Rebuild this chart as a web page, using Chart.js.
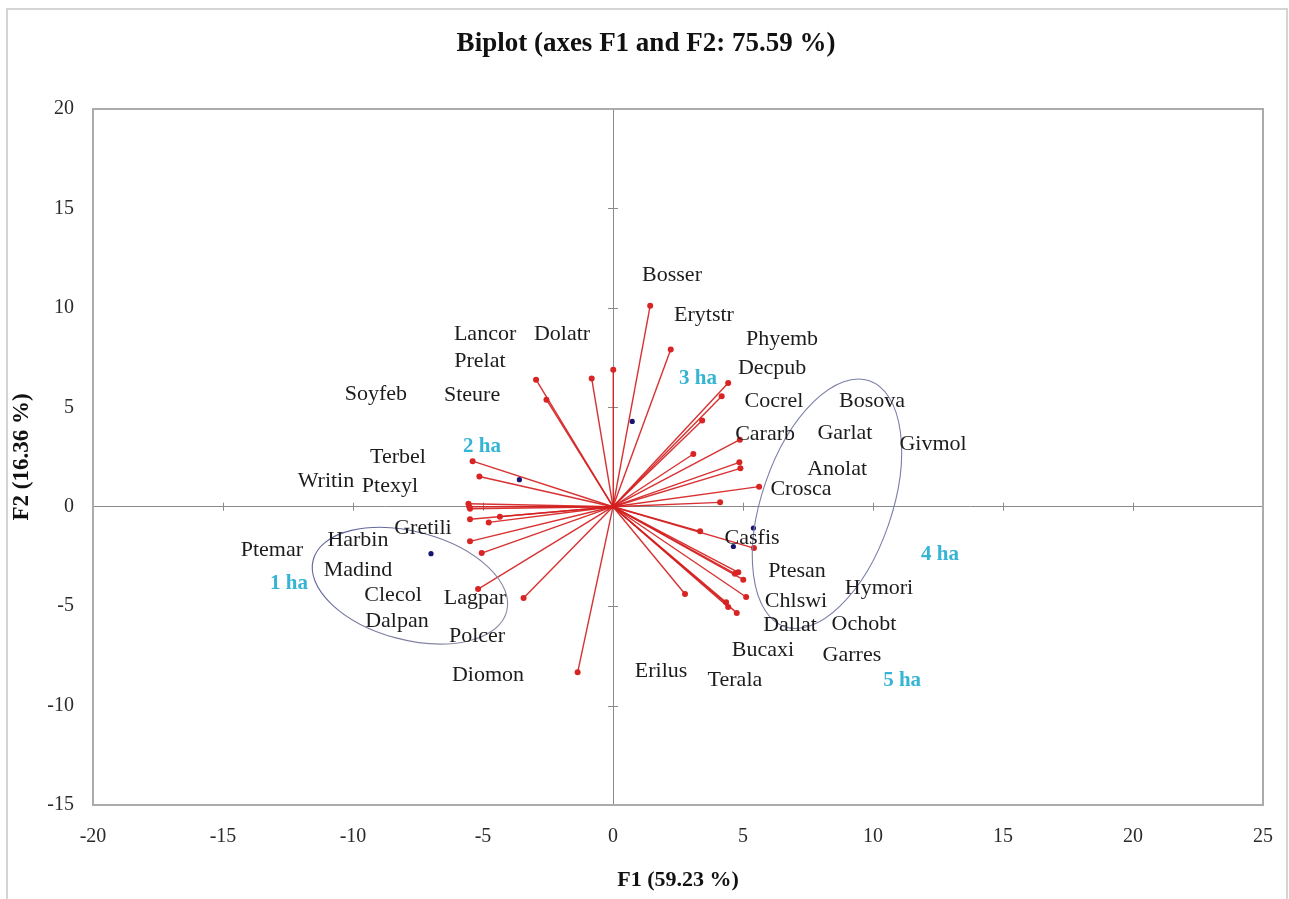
<!DOCTYPE html>
<html><head><meta charset="utf-8">
<script src="https://cdn.jsdelivr.net/npm/chart.js@4.4.0/dist/chart.umd.min.js"></script>
<style>html,body{margin:0;padding:0;background:#fff}#wrap{width:1289px;height:899px}</style>
</head><body><div id="wrap"><canvas id="c" width="1289" height="899"></canvas></div>
<script>
// ---- data ----
const chartTitle = 'Biplot (axes F1 and F2: 75.59 %)';
const variables = ['Bosser','Erytstr','Phyemb','Decpub','Cocrel','Cararb','Bosova','Garlat','Givmol','Anolat','Crosca','Casfis','Ptesan','Hymori','Chlswi','Ochobt','Dallat','Garres','Bucaxi','Terala','Erilus','Diomon','Polcer','Lagpar','Dalpan','Clecol','Madind','Harbin','Ptemar','Gretili','Writin','Ptexyl','Terbel','Soyfeb','Steure','Prelat','Lancor','Dolatr'];
const varF1 = [1.43,2.22,4.43,4.18,3.43,4.88,4.86,4.90,3.09,4.12,5.62,5.42,4.69,4.82,5.01,5.12,4.76,4.43,4.35,3.35,2.77,-1.36,-3.44,-5.19,-5.05,-5.50,-4.35,-4.78,-5.50,-5.50,-5.53,-5.14,-5.40,-5.56,-2.56,-0.82,-2.96,0.01];
const varF2 = [10.11,7.91,6.22,5.55,4.34,3.37,2.23,1.93,2.65,0.22,1.01,-2.08,-3.37,-3.30,-3.67,-4.54,-5.34,-5.04,-4.81,-1.24,-4.39,-8.33,-4.59,-4.14,-2.33,-1.74,-0.50,-0.79,-0.63,-0.10,0.00,1.52,2.29,0.15,5.38,6.45,6.39,6.89];
const varLabelF1 = [2.27,3.50,6.50,6.12,6.19,5.85,9.96,8.92,12.31,8.62,7.23,5.35,7.08,10.23,7.04,9.65,6.81,9.19,5.77,4.69,1.85,-4.81,-5.23,-5.31,-8.31,-8.46,-9.81,-9.81,-13.12,-7.31,-11.04,-8.58,-8.27,-9.12,-5.42,-5.12,-4.92,-1.96];
const varLabelF2 = [11.66,9.65,8.40,6.94,5.28,3.67,5.28,3.72,3.12,1.91,0.90,-1.56,-3.22,-4.12,-4.73,-5.93,-5.98,-7.49,-7.24,-8.70,-8.25,-8.45,-6.49,-4.58,-5.78,-4.47,-3.17,-1.66,-2.21,-1.06,1.26,1.01,2.51,5.68,5.63,7.34,8.65,8.65];

const observations = ['1 ha','2 ha','3 ha','4 ha','5 ha'];
const obsF1 = [-7.00,-3.60,0.74,5.40,4.63];
const obsF2 = [-2.36,1.36,4.29,-1.07,-2.00];
const obsLabelF1 = [-12.46,-5.04,3.27,12.58,11.12];
const obsLabelF2 = [-3.87,3.02,6.44,-2.41,-8.75];

const xTicks = [-20,-15,-10,-5,0,5,10,15,20,25];
const yTicks = [-15,-10,-5,0,5,10,15,20];

// grouping ellipses (centre in F1/F2, semi-axes in F1 units, tilt in degrees)
const ellipseCentreF1 = [-7.81, 8.23];
const ellipseCentreF2 = [-3.97, 0.15];
const ellipseMajor = [3.85, 5.0];
const ellipseMinor = [2.08, 2.5];
const ellipseTilt = [15, -71];

// ---- styles ----
const RED = '#d92424';
const NAVY = '#16166e';
const CYAN = '#35b4d4';
const SERIF = '"Liberation Serif", "Times New Roman", serif';

const datasets = variables.map((name, i) => ({
  label: name,
  data: [{x: 0, y: 0}, {x: varF1[i], y: varF2[i]}],
  showLine: true,
  borderColor: 'rgba(212,32,32,0.92)',
  borderWidth: 1.4,
  pointRadius: [0, 3],
  pointBackgroundColor: RED,
  pointBorderWidth: 0,
  order: 2
}));
datasets.push({
  label: 'Observations',
  data: obsF1.map((v, i) => ({x: v, y: obsF2[i]})),
  showLine: false,
  pointRadius: 2.6,
  pointBackgroundColor: NAVY,
  pointBorderWidth: 0,
  order: 1
});

const framePlugin = {
  id: 'frame',
  beforeDraw(chart) {
    const ctx = chart.ctx;
    ctx.save();
    ctx.fillStyle = '#fff';
    ctx.fillRect(0, 0, chart.width, chart.height);
    ctx.strokeStyle = '#d4d4d4';
    ctx.lineWidth = 2;
    ctx.strokeRect(7, 9, 1280, 900);
    // chart title
    ctx.fillStyle = '#111';
    ctx.font = 'bold 27px ' + SERIF;
    ctx.textAlign = 'center';
    ctx.textBaseline = 'middle';
    ctx.fillText(chartTitle, 646, 44);
    ctx.restore();
  },
  beforeDatasetsDraw(chart) {
    const {ctx, chartArea: a, scales: {x, y}} = chart;
    ctx.save();
    // plot box
    ctx.strokeStyle = '#ababab';
    ctx.lineWidth = 2;
    ctx.strokeRect(a.left, a.top, a.right - a.left, a.bottom - a.top);
    // cross tick marks on the axes through the origin
    ctx.strokeStyle = '#8a8a8a';
    ctx.lineWidth = 1;
    const x0 = x.getPixelForValue(0), y0 = y.getPixelForValue(0);
    ctx.beginPath();
    xTicks.forEach(v => {
      if (v === 0 || v === x.min || v === x.max) return;
      const p = Math.round(x.getPixelForValue(v)) + 0.5;
      ctx.moveTo(p, y0 - 4); ctx.lineTo(p, y0 + 4);
    });
    yTicks.forEach(v => {
      if (v === 0 || v === y.min || v === y.max) return;
      const p = Math.round(y.getPixelForValue(v)) + 0.5;
      ctx.moveTo(x0 - 5, p); ctx.lineTo(x0 + 5, p);
    });
    ctx.stroke();
    ctx.restore();
  },
  afterDatasetsDraw(chart) {
    const {ctx, scales: {x, y}} = chart;
    const ux = x.getPixelForValue(1) - x.getPixelForValue(0);
    ctx.save();
    // ellipses
    ctx.lineWidth = 1.1;
    ellipseCentreF1.forEach((cx, i) => {
      const px = x.getPixelForValue(cx), py = y.getPixelForValue(ellipseCentreF2[i]);
      const g = ctx.createLinearGradient(px - 120, py - 120, px + 120, py + 120);
      g.addColorStop(0, '#4a4f96');
      g.addColorStop(1, '#a0a0a8');
      ctx.strokeStyle = i === 0 ? g : '#7a7fa6';
      ctx.beginPath();
      ctx.ellipse(px, py, ellipseMajor[i] * ux, ellipseMinor[i] * ux, ellipseTilt[i] * Math.PI / 180, 0, Math.PI * 2);
      ctx.stroke();
    });
    // labels
    ctx.textAlign = 'center';
    ctx.textBaseline = 'middle';
    ctx.font = '22px ' + SERIF;
    ctx.fillStyle = '#1c1c1c';
    variables.forEach((n, i) => {
      ctx.fillText(n, x.getPixelForValue(varLabelF1[i]), y.getPixelForValue(varLabelF2[i]));
    });
    ctx.font = 'bold 21px ' + SERIF;
    ctx.fillStyle = CYAN;
    observations.forEach((n, i) => {
      ctx.fillText(n, x.getPixelForValue(obsLabelF1[i]), y.getPixelForValue(obsLabelF2[i]));
    });
    ctx.restore();
  }
};

new Chart(document.getElementById('c'), {
  type: 'scatter',
  data: {datasets},
  options: {
    responsive: false,
    devicePixelRatio: 1,
    animation: false,
    layout: {padding: {top: 109, left: 0, right: 26, bottom: 0}},
    plugins: {
      legend: {display: false},
      tooltip: {enabled: false},
      title: {display: false}
    },
    scales: {
      x: {
        type: 'linear', min: -20, max: 25,
        afterBuildTicks: s => { s.ticks = xTicks.map(v => ({value: v})); },
        afterFit: s => { s.height = 94; s.paddingLeft = 0; s.paddingRight = 0; },
        ticks: {color: '#2a2a2a', font: {family: SERIF, size: 20}, padding: 20},
        grid: {drawTicks: false, color: c => (c.tick && c.tick.value === 0) ? '#8a8a8a' : 'rgba(0,0,0,0)', lineWidth: 1},
        border: {display: false},
        title: {display: true, text: 'F1 (59.23 %)', color: '#111', font: {family: SERIF, size: 22, weight: 'bold', lineHeight: 1.2}, padding: {top: 0, bottom: 5}}
      },
      y: {
        type: 'linear', min: -15, max: 20,
        afterBuildTicks: s => { s.ticks = yTicks.map(v => ({value: v})); },
        afterFit: s => { s.width = 93; s.paddingTop = 0; s.paddingBottom = 0; },
        ticks: {color: '#2a2a2a', font: {family: SERIF, size: 20}, padding: 19},
        grid: {drawTicks: false, color: c => (c.tick && c.tick.value === 0) ? '#8a8a8a' : 'rgba(0,0,0,0)', lineWidth: 1},
        border: {display: false},
        title: {display: true, text: 'F2 (16.36 %)', color: '#111', font: {family: SERIF, size: 23, weight: 'bold', lineHeight: 1.2}, padding: {top: 8, bottom: 0}}
      }
    }
  },
  plugins: [framePlugin]
});
</script>
</body></html>
